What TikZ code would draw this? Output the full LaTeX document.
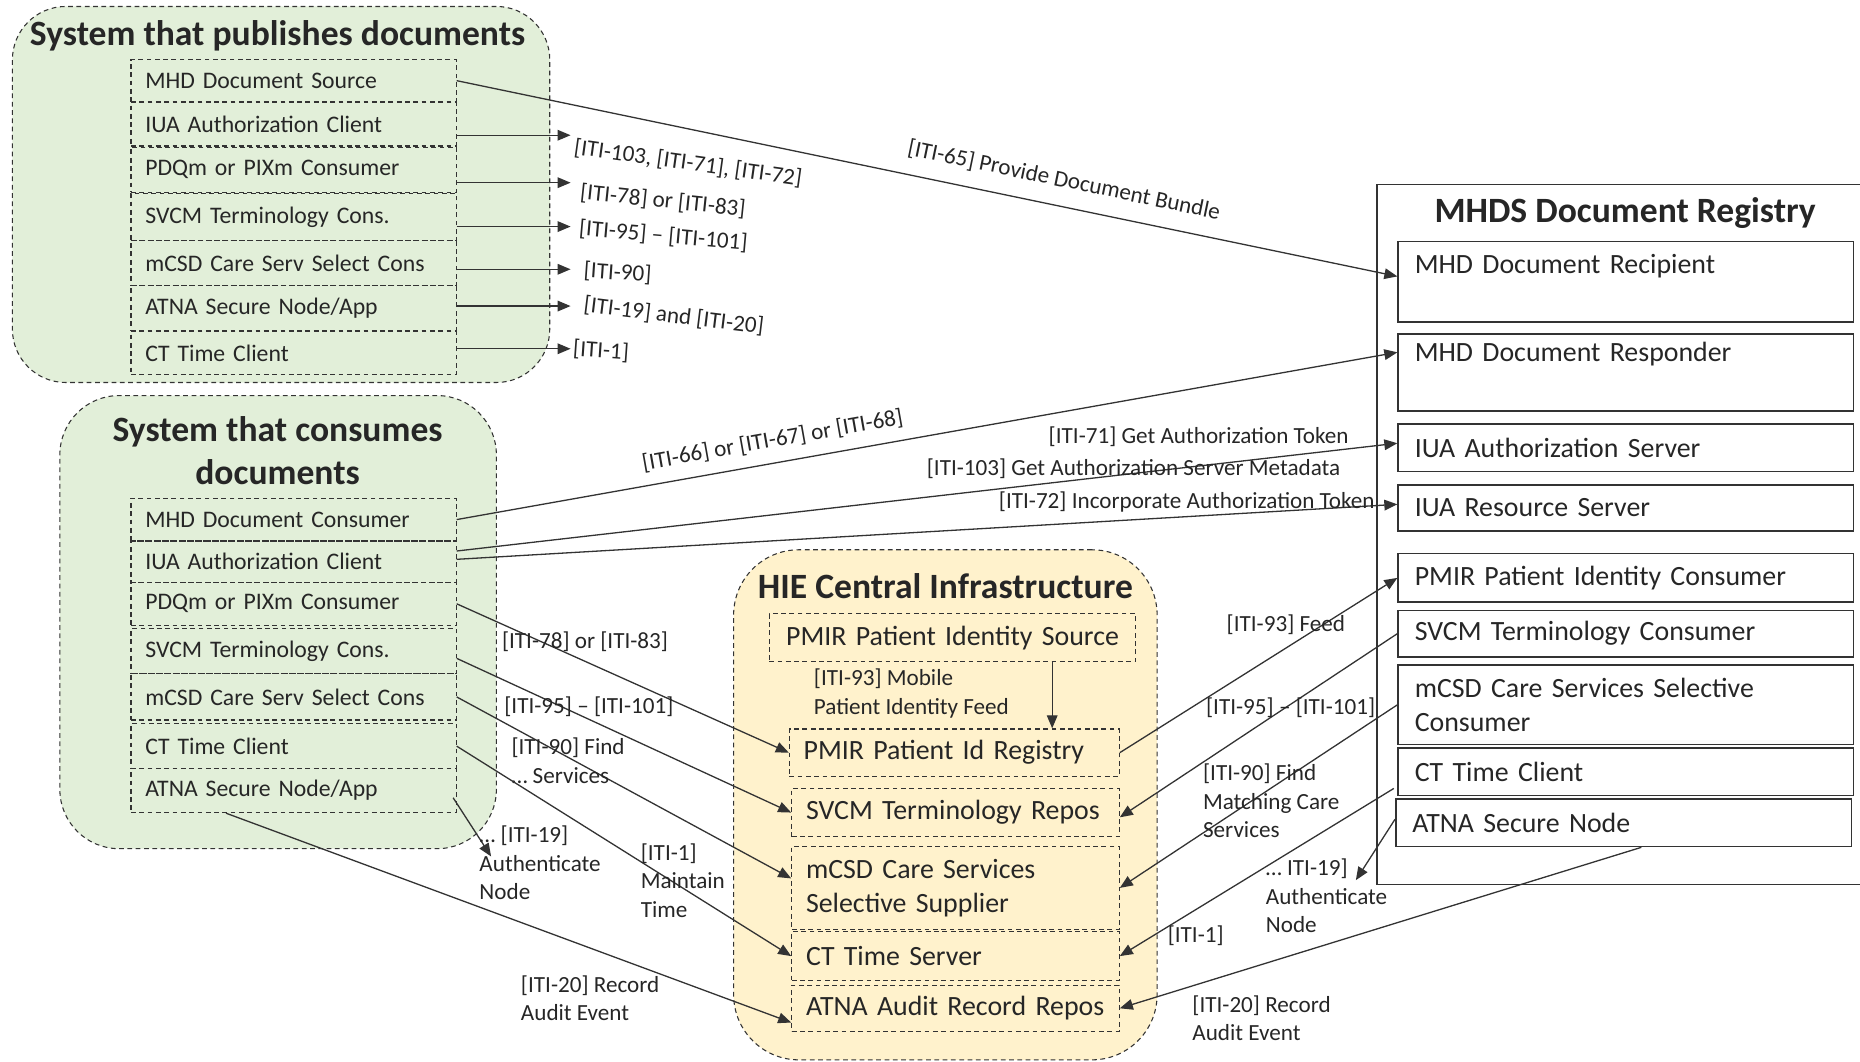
\documentclass[tikz,border=0pt]{standalone}
\usepackage{fontspec}
\setmainfont{Carlito}
\usepackage{tikz}
\usetikzlibrary{positioning, arrows.meta, calc}

\definecolor{grpgreen}{HTML}{E2EFD9}
\definecolor{grptan}{HTML}{FFF2CC}
\definecolor{lincol}{HTML}{333333}

\begin{document}
\begin{tikzpicture}[%
    x=1pt, y=-1pt,
    every node/.style={
        text=black!85,
    },
    group/.style={draw=lincol, dash pattern=on 4pt off 3pt, line width=0.9pt, anchor=north west},
    grptitle/.style={font=\fontsize{30}{36}\selectfont\bfseries, align=center},
    pubbox/.style={draw=lincol, dash pattern=on 4pt off 3pt, line width=1pt, anchor=west,
        minimum width=274pt, text width=250pt, inner xsep=12pt, align=left,
        font=\fontsize{20}{24}\selectfont},
    regbox/.style={draw=lincol, line width=1.3pt, anchor=north west, text width=356pt,
        inner xsep=14pt, inner ysep=4pt, align=left, font=\fontsize{23.5}{29}\selectfont},
    hiebox/.style={draw=lincol, dash pattern=on 4pt off 3pt, line width=1pt, anchor=north west,
        minimum width=276pt, text width=252pt, inner xsep=12pt, align=left,
        font=\fontsize{23.5}{29}\selectfont},
    lbl/.style={font=\fontsize{19.5}{24}\selectfont, inner sep=1pt, align=left},
    arr/.style={-{Triangle[length=11pt,width=9pt]}, line width=1.1pt, draw=lincol},
]

\useasboundingbox (0,0) rectangle (1568,895);

% draw group backgrounds
\node[group, fill=grpgreen, rounded corners=45pt, minimum width=453pt, minimum height=317pt] (pubgrp) at (10,5) {};
\node[group, fill=grpgreen, rounded corners=50pt, minimum width=368pt, minimum height=382pt] (congrp) at (50,333) {};
\node[group, fill=grptan, rounded corners=55pt, minimum width=357pt, minimum height=430pt] (hiegrp) at (618,463) {};
\node[draw=lincol, line width=1.3pt, anchor=north west, minimum width=425pt, minimum height=590pt] (reg) at (1160,155) {};

% group titles
\node[grptitle] (pubttl) at (234,30) {System that publishes documents};
\node[grptitle] (conttl) at (234,380) {System that consumes\\documents};
\node[grptitle] (hiettl) at (797,494) {HIE Central Infrastructure};
\node[grptitle] (regttl) at (1370,180) {MHDS Document Registry};

% publishing system actors
\foreach \nm/\yc/\hh/\txt in {
    src/68/36/MHD Document Source,
    iua/104.5/37/IUA Authorization Client,
    pdq/143/38/PDQm or PIXm Consumer,
    svcm/183/40/SVCM Terminology Cons.,
    mcsd/222/38/mCSD Care Serv Select Cons,
    atna/260/38/{ATNA Secure Node/App},
    ct/297.5/37/CT Time Client}{
    \node[pubbox, minimum height=\hh pt] (pub\nm) at (110,\yc) {\txt};
}

% consuming system actors
\foreach \nm/\yc/\hh/\txt in {
    mhd/438/36/MHD Document Consumer,
    iua/473.5/35/IUA Authorization Client,
    pdq/509/36/PDQm or PIXm Consumer,
    svcm/549/38/SVCM Terminology Cons.,
    mcsd/587.5/39/mCSD Care Serv Select Cons,
    ct/629/38/CT Time Client,
    atna/666.5/37/{ATNA Secure Node/App}}{
    \node[pubbox, minimum height=\hh pt] (con\nm) at (110,\yc) {\txt};
}

% registry actors
\node[regbox, minimum height=68pt, text height=23pt, text depth=37pt] (regrcp) at (1178,203) {MHD Document Recipient};
\node[regbox, minimum height=65pt, text height=19pt, text depth=38pt] (regrsp) at (1178,281) {MHD Document Responder};
\node[regbox, minimum height=40pt] (regauth) at (1178,357) {IUA Authorization Server};
\node[regbox, minimum height=39pt] (regres) at (1178,408) {IUA Resource Server};
\node[regbox, minimum height=41pt] (regpmir) at (1178,466) {PMIR Patient Identity Consumer};
\node[regbox, minimum height=39pt] (regsvcm) at (1178,514) {SVCM Terminology Consumer};
\node[regbox, minimum height=67pt] (regmcsd) at (1178,560) {mCSD Care Services Selective\\Consumer};
\node[regbox, minimum height=40pt] (regct) at (1178,630) {CT Time Client};
\node[regbox, minimum height=40pt] (regatna) at (1176,673) {ATNA Secure Node};

% HIE actors
\node[hiebox, minimum width=309pt, text width=285pt, align=center, minimum height=40pt] (hiesrc) at (648,517) {PMIR Patient Identity Source};
\node[hiebox, minimum width=278pt, text width=254pt, minimum height=40pt] (hiereg) at (665,614) {PMIR Patient Id Registry};
\node[hiebox, minimum height=41pt] (hiesvcm) at (667,664) {SVCM Terminology Repos};
\node[hiebox, minimum height=70pt] (hiemcsd) at (667,713) {mCSD Care Services\\Selective Supplier};
\node[hiebox, minimum height=41pt] (hiect) at (667,785) {CT Time Server};
\node[hiebox, minimum height=39pt] (hieatna) at (667,830) {ATNA Audit Record Repos};

% short transactions of the publishing system
\foreach \nm/\ay/\dx/\dy/\ang/\txt in {
    iua/9.5/2/10/-8/{[ITI-103, [ITI-71],  [ITI-72]},
    pdq/11/7/8/-6/{[ITI-78] or [ITI-83]},
    svcm/8/6/1.5/-5/{[ITI-95] – [ITI-101]},
    mcsd/5/10/1/-4/{[ITI-90]},
    atna/-2/10/-1/-7/{[ITI-19] and [ITI-20]},
    ct/-3.5/1/0/-4/{[ITI-1]}}{
    \coordinate (out\nm) at ($(pub\nm.east)+(0,\ay)$);
    \path (out\nm) ++(96,0) coordinate (tip\nm);
    \draw[arr] (out\nm) -- (tip\nm);
    \node[lbl, anchor=west, rotate=\ang] (lab\nm) at ([shift={(\dx,\dy)}]tip\nm) {\txt};
}

\draw[arr] (pubsrc.east) -- ($(regrcp.north west)+(0,30)$)
    node[lbl, sloped, above=12pt, pos=0.64] (lab65) {[ITI-65] Provide Document Bundle};

% consuming system to registry
\draw[arr] (conmhd.east) -- ($(regrsp.north west)+(0,16)$)
    node[lbl, sloped, above=9pt, pos=0.34] (lab66) {[ITI-66] or [ITI-67] or [ITI-68]};
\draw[arr] ($(coniua.east)+(0,-9)$) -- ($(regauth.west)+(0,-4)$);
\node[lbl, anchor=east] (lab71) at (1138,368) {[ITI-71] Get Authorization Token};
\node[lbl, anchor=east] (lab103) at (1131,395) {[ITI-103] Get Authorization Server Metadata};
\draw[arr] ($(coniua.east)+(0,-2)$) -- ($(regres.west)+(0,-3)$);
\node[lbl, anchor=east] (lab72) at (1160,423) {[ITI-72] Incorporate Authorization Token};

% consuming system to HIE
\draw[arr] (conpdq.east) -- (hiereg.west);
\node[lbl, anchor=west] (lab78b) at (422,541) {[ITI-78] or [ITI-83]};
\draw[arr] ($(consvcm.east)+(0,6)$) -- (hiesvcm.west);
\node[lbl, anchor=west] (lab95b) at (424,596) {[ITI-95] – [ITI-101]};
\draw[arr] (conmcsd.east) -- ($(hiemcsd.west)+(0,-8)$);
\node[lbl, anchor=north west] (lab90b) at (430,621) {[ITI-90] Find\\… Services};
\draw[arr] (conct.east) -- (hiect.west);
\node[lbl, anchor=north west] (lab1b) at (539,710) {[ITI-1]\\Maintain\\Time};
\coordinate (tipcon) at (414,722);
\draw[arr] ($(conatna.east)+(-3,6)$) -- (tipcon);
\node[lbl, anchor=north west] (lab19b) at (403,695) {… [ITI-19]\\Authenticate\\Node};
\draw[arr] ($(conatna.south)+(-57,0)$) -- ($(hieatna.west)+(0,12)$);
\node[lbl, anchor=north west] (lab20b) at (438,821) {[ITI-20] Record\\Audit Event};

% inside HIE
\coordinate (feedtop) at ($(hiesrc.south)+(84,0)$);
\draw[arr] (feedtop) -- (feedtop |- hiereg.north);
\node[lbl, anchor=north west] (lab93) at (685,563) {[ITI-93] Mobile\\Patient Identity Feed};

% HIE and registry
\draw[arr] (hiereg.east) -- (regpmir.west);
\node[lbl] (lab93b) at (1084,527) {[ITI-93] Feed};
\draw[arr] (regsvcm.west) -- ($(hiesvcm.east)+(0,4)$);
\node[lbl] (lab95c) at (1088,597) {[ITI-95] – [ITI-101]};
\draw[arr] (regmcsd.west) -- (hiemcsd.east);
\node[lbl, anchor=north west] (lab90c) at (1013,643) {[ITI-90] Find\\Matching Care\\Services};
\draw[arr] ($(regct.west)+(-3,14)$) -- (hiect.east);
\node[lbl] (lab1c) at (1008,789) {[ITI-1]};
\coordinate (tipreg) at (1143,742);
\draw[arr] ($(regatna.west)+(0,-3)$) -- (tipreg);
\node[lbl, anchor=north west] (lab19c) at (1066,723) {… ITI-19]\\Authenticate\\Node};
\draw[arr] ($(regatna.south)+(15,0)$) -- (hieatna.east);
\node[lbl, anchor=north west] (lab20c) at (1004,838) {[ITI-20] Record\\Audit Event};

\end{tikzpicture}
\end{document}
